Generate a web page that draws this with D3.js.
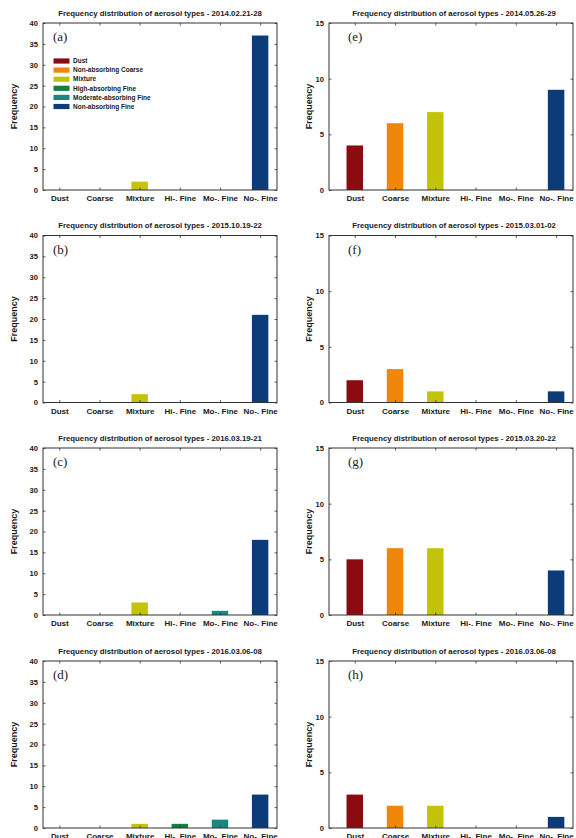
<!DOCTYPE html>
<html>
<head>
<meta charset="utf-8">
<script src="https://cdn.jsdelivr.net/npm/d3@7/dist/d3.min.js"></script>
<style>
  html, body { margin: 0; padding: 0; background: #fff; }
  svg { display: block; }
  text { font-family: "Liberation Sans", Arial, sans-serif; }
</style>
</head>
<body>
<svg id="chart" width="576" height="838"></svg>
<script>
// ---- data ----
const categories = ["Dust", "Coarse", "Mixture", "Hi-. Fine", "Mo-. Fine", "No-. Fine"];
const legendLabels = ["Dust", "Non-absorbing Coarse", "Mixture", "High-absorbing Fine", "Moderate-absorbing Fine", "Non-absorbing Fine"];
const typeColors = ["#8a0b10", "#f0860c", "#c4c30c", "#14803e", "#168a82", "#0c3b7a"];

const valuesA = [0, 0, 2, 0, 0, 37];
const valuesB = [0, 0, 2, 0, 0, 21];
const valuesC = [0, 0, 3, 0, 1, 18];
const valuesD = [0, 0, 1, 1, 2, 8];
const valuesE = [4, 6, 7, 0, 0, 9];
const valuesF = [2, 3, 1, 0, 0, 1];
const valuesG = [5, 6, 6, 0, 0, 4];
const valuesH = [3, 2, 2, 0, 0, 1];

const dates = ["2014.02.21-28", "2015.10.19-22", "2016.03.19-21", "2016.03.06-08",
               "2014.05.26-29", "2015.03.01-02", "2015.03.20-22", "2016.03.06-08"];
const panelLetters = ["(a)", "(b)", "(c)", "(d)", "(e)", "(f)", "(g)", "(h)"];
const yTicksLeft = [0, 5, 10, 15, 20, 25, 30, 35, 40];
const yTicksRight = [0, 5, 10, 15];

const panelValues = [valuesA, valuesB, valuesC, valuesD, valuesE, valuesF, valuesG, valuesH];

// ---- layout ----
const svg = d3.select("#chart");
const tops = [23, 235.5, 448, 661];
const plotH = 167;
const cols = [
  { x0: 43, x1: 277, xDomain: [0.594, 6.42], yMax: 40, ticks: yTicksLeft, ylabX: 14 },
  { x0: 329, x1: 573, xDomain: [0.36, 6.42], yMax: 15, ticks: yTicksRight, ylabX: 309 }
];
const barW = 0.41;
const axisColor = "#333";

panelValues.forEach((vals, i) => {
  const col = cols[Math.floor(i / 4)];
  const top = tops[i % 4];
  const bottom = top + plotH;
  const x = d3.scaleLinear().domain(col.xDomain).range([col.x0, col.x1]);
  const y = d3.scaleLinear().domain([0, col.yMax]).range([bottom, top]);
  const g = svg.append("g");

  // bars
  g.selectAll("rect.bar").data(vals).enter().append("rect")
    .attr("class", "bar")
    .attr("x", (d, k) => x(k + 1 - barW / 2))
    .attr("width", (d, k) => x(k + 1 + barW / 2) - x(k + 1 - barW / 2))
    .attr("y", d => y(d))
    .attr("height", d => y(0) - y(d))
    .attr("fill", (d, k) => typeColors[k]);

  // axes
  const catIdx = categories.map((c, k) => k + 1);
  const fmtCat = k => categories[k - 1];
  const axB = d3.axisBottom(x).tickValues(catIdx).tickFormat(fmtCat).tickSize(-2.5).tickPadding(5.5);
  const axT = d3.axisTop(x).tickValues(catIdx).tickFormat("").tickSize(-2.5);
  const axL = d3.axisLeft(y).tickValues(col.ticks).tickFormat(d3.format("d")).tickSize(-2.5).tickPadding(5);
  const axR = d3.axisRight(y).tickValues(col.ticks).tickFormat("").tickSize(-2.5);

  const gb = g.append("g").attr("transform", `translate(0,${bottom})`).call(axB);
  const gt = g.append("g").attr("transform", `translate(0,${top})`).call(axT);
  const gl = g.append("g").attr("transform", `translate(${col.x0},0)`).call(axL);
  const gr = g.append("g").attr("transform", `translate(${col.x1},0)`).call(axR);
  [gb, gt, gl, gr].forEach(a => {
    a.select(".domain").remove();
    a.selectAll(".tick line").attr("stroke", axisColor).attr("stroke-width", 0.8);
    a.selectAll(".tick text").attr("fill", "#1a1a1a")
      .style("font-weight", "bold")
      .style("font-family", "'Liberation Sans', Arial, sans-serif");
  });
  gb.selectAll(".tick text").style("font-size", "8px");
  gl.selectAll(".tick text").style("font-size", "7.6px");

  // box
  g.append("rect").attr("x", col.x0).attr("y", top)
    .attr("width", col.x1 - col.x0).attr("height", plotH)
    .attr("fill", "none").attr("stroke", axisColor).attr("stroke-width", 1);

  // title
  g.append("text")
    .attr("x", (col.x0 + col.x1) / 2 + (i >= 4 ? 3 : 0)).attr("y", top - 7.5)
    .attr("text-anchor", "middle")
    .style("font-size", "7.8px").style("font-weight", "bold").attr("fill", "#1a1a1a")
    .text("Frequency distribution of aerosol types - " + dates[i]);

  // y label
  g.append("text")
    .attr("transform", `translate(${col.ylabX},${(top + bottom) / 2}) rotate(-90)`)
    .attr("text-anchor", "middle").attr("dy", "0.35em")
    .style("font-size", "9px").style("font-weight", "bold").attr("fill", "#1a1a1a")
    .text("Frequency");

  // panel letter
  g.append("text")
    .attr("x", i >= 4 ? col.x0 + 19 : col.x0 + 10).attr("y", top + 18)
    .style("font-family", "'Liberation Serif', 'Times New Roman', serif")
    .style("font-size", "13px").attr("fill", "#1a1a1a")
    .text(panelLetters[i]);

  // legend in panel (a)
  if (i === 0) {
    const lg = g.append("g");
    legendLabels.forEach((lab, k) => {
      const cy = 61 + k * 9.1;
      lg.append("rect").attr("x", col.x0 + 10.5).attr("y", cy - 2.6)
        .attr("width", 16).attr("height", 5.2).attr("fill", typeColors[k]);
      lg.append("text").attr("x", col.x0 + 30).attr("y", cy).attr("dy", "0.35em")
        .style("font-size", "6.5px").style("font-weight", "bold").attr("fill", "#1a1a1a")
        .text(lab);
    });
  }
});
</script>
</body>
</html>
